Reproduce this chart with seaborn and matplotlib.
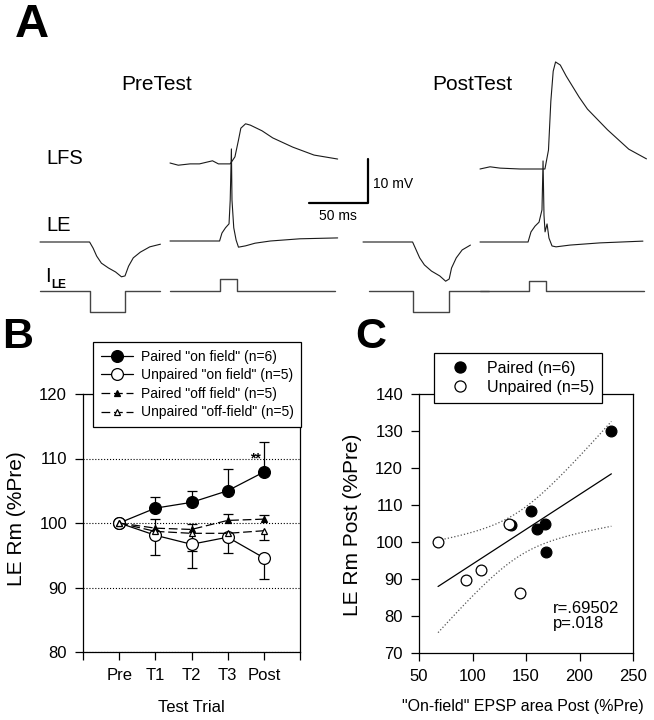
import numpy as np
import matplotlib
matplotlib.use("Agg")
import matplotlib.pyplot as plt
from matplotlib.lines import Line2D
import seaborn as sns

# ---------------- panel A: traces (t in ms, v in mV from baseline) ----------------
pre_hyp_t = [0, 42, 45, 48, 52, 58, 64, 69, 72, 75, 79, 85, 93, 102]
pre_hyp_v = [0, 0, -1.4, -3.2, -4.8, -5.9, -6.8, -7.9, -7.7, -5.5, -3.6, -2.3, -1.1, -0.5]
post_hyp_t = [0, 42, 45, 48, 52, 58, 65, 70, 73, 75, 79, 84, 91]
post_hyp_v = [0, 0, -1.8, -3.6, -5.2, -6.6, -7.7, -8.9, -8.4, -5.9, -3.6, -1.8, -0.7]

pre_le_t = [0, 42, 44, 47, 50, 51, 52, 52.5, 54, 56, 58, 64, 72, 85, 110, 142]
pre_le_v = [0, 0, 1.8, 3.0, 3.9, 9.3, 20.9, 9.3, 3.0, 0.2, -1.4, -1.1, -0.5, 0, 0.5, 0.7]
post_le_t = [0, 40.7, 43.2, 46.6, 50.0, 52.5, 53.4, 54.2, 55.1, 56.8, 58.4, 61.0, 64.4, 76.2, 101.6, 138.0]
post_le_v = [0, 0, 2.3, 3.6, 4.5, 7.3, 18.4, 6.1, 2.3, 4.1, 0.9, -0.9, -1.1, -0.7, -0.2, 0.2]

pre_lfs_t = [0, 7, 17, 25, 36, 41, 51, 55, 58, 60, 64, 68, 78, 87, 104, 122, 142]
pre_lfs_v = [0, -0.5, -0.2, -0.2, 0.5, -0.2, -0.2, 1.4, 5.2, 7.9, 8.9, 8.6, 7.3, 5.7, 3.6, 1.8, 0.9]
post_lfs_t = [0, 8.5, 17, 34, 51, 55, 58, 60, 62, 64, 68, 73, 84, 91, 108, 126, 141]
post_lfs_v = [0, 0.5, 0.2, 0, 0, 0, 4.3, 15.4, 22.2, 24.3, 23.6, 21.1, 16.3, 13.6, 8.9, 4.5, 2.3]

# injected current (relative units, hyperpolarizing step = -1)
pre_hyp_it = [0, 42, 42, 72, 72, 102]
pre_hyp_i = [0, 0, -1, -1, 0, 0]
post_hyp_it = [5, 42, 42, 73, 73, 107]
post_hyp_i = [0, 0, -1, -1, 0, 0]
pre_dep_it = [0, 42, 42, 57, 57, 140]
pre_dep_i = [0, 0, 0.55, 0.55, 0, 0]
post_dep_it = [0, 41.5, 41.5, 56, 56, 139]
post_dep_i = [0, 0, 0.48, 0.48, 0, 0]

# ---------------- panel B ----------------
trials = ["Pre", "T1", "T2", "T3", "Post"]
paired_on = [100, 102.3, 103.2, 105.0, 107.9]
paired_on_err = [0, 1.8, 1.7, 3.3, 4.7]
unpaired_on = [100, 98.1, 96.7, 97.8, 94.6]
unpaired_on_err = [0, 3.1, 3.7, 2.5, 3.3]
paired_off = [100, 99.2, 99.0, 100.4, 100.6]
paired_off_err = [0, 1.4, 0.8, 1.0, 0.6]
unpaired_off = [100, 98.7, 98.4, 98.4, 98.8]
unpaired_off_err = [0, 0.8, 2.8, 0.7, 1.5]

# ---------------- panel C ----------------
paired_x = [229.8, 155.0, 160.3, 167.8, 168.4, 136.3]
paired_y = [129.9, 108.5, 103.4, 104.8, 97.2, 104.6]
unpaired_x = [67.8, 93.6, 108.3, 133.8, 144.1]
unpaired_y = [99.9, 89.7, 92.4, 105.0, 86.3]

sns.set_style("ticks", {"axes.edgecolor": "k", "xtick.color": "k", "ytick.color": "k",
                        "text.color": "k", "axes.labelcolor": "k"})
plt.rcParams["font.family"] = ["Liberation Sans", "DejaVu Sans"]

W, H = 654, 720
fig = plt.figure(figsize=(6.54, 7.2), dpi=100)

# ----- panel A, drawn in pixel coordinates -----
PX_PER_MS = 1 / 0.847
PX_PER_MV = 1 / 0.227
PX_PER_I = 21

axA = fig.add_axes([0, 1 - 325 / H, 1, 285 / H])
axA.set_xlim(0, W)
axA.set_ylim(325, 40)
axA.axis("off")


def trace(x0, y0, t, v, scale, **kw):
    x = x0 + np.asarray(t, float) * PX_PER_MS
    y = y0 - np.asarray(v, float) * scale
    axA.plot(x, y, **kw)


vkw = dict(color="#1a1a1a", lw=0.8)
ikw = dict(color="#444444", lw=1.0)
trace(40, 242, pre_hyp_t, pre_hyp_v, PX_PER_MV, **vkw)
trace(40, 291, pre_hyp_it, pre_hyp_i, PX_PER_I, **ikw)
trace(170, 163, pre_lfs_t, pre_lfs_v, PX_PER_MV, **vkw)
trace(170, 241, pre_le_t, pre_le_v, PX_PER_MV, **vkw)
trace(170, 291, pre_dep_it, pre_dep_i, PX_PER_I, **ikw)
trace(363, 242, post_hyp_t, post_hyp_v, PX_PER_MV, **vkw)
trace(363, 291, post_hyp_it, post_hyp_i, PX_PER_I, **ikw)
trace(480, 169, post_lfs_t, post_lfs_v, PX_PER_MV, **vkw)
trace(480, 242, post_le_t, post_le_v, PX_PER_MV, **vkw)
trace(480, 291, post_dep_it, post_dep_i, PX_PER_I, **ikw)

# scale bar 50 ms / 10 mV
axA.plot([368 - 50 * PX_PER_MS, 368, 368], [203, 203, 203 - 10 * PX_PER_MV], color="k", lw=1.6)
axA.text(373, 184, "10 mV", fontsize=10, va="center", ha="left")
axA.text(338, 216, "50 ms", fontsize=10, va="center", ha="center")

axA.text(157, 84, "PreTest", fontsize=15, ha="center", va="center")
axA.text(472, 84, "PostTest", fontsize=15, ha="center", va="center")
axA.text(46, 158, "LFS", fontsize=14.5, va="center")
axA.text(46, 226, "LE", fontsize=14.5, va="center")
axA.text(45, 277, "I", fontsize=14.5, va="center")
axA.text(51, 285, "LE", fontsize=8.5, fontweight="bold", va="center")

fig.text(15 / W, 1 - 25 / H, "A", fontsize=34, fontweight="bold", va="center")
fig.text(2 / W, 1 - 337 / H, "B", fontsize=31, fontweight="bold", va="center")
fig.text(355 / W, 1 - 337 / H, "C", fontsize=31, fontweight="bold", va="center")

# ----- panel B -----
axB = fig.add_axes([83 / W, 1 - 652 / H, 217 / W, 258 / H])
xpos = np.arange(1, len(trials) + 1)

styles = [
    (paired_on, paired_on_err, 1, dict(marker="o", markersize=8.5, markerfacecolor="k", linestyle="-")),
    (unpaired_on, unpaired_on_err, -1, dict(marker="o", markersize=8.5, markerfacecolor="w", linestyle="-")),
    (paired_off, paired_off_err, 1, dict(marker="^", markersize=4.5, markerfacecolor="k", linestyle=(0, (7, 3)))),
    (unpaired_off, unpaired_off_err, -1, dict(marker="^", markersize=4.5, markerfacecolor="w", linestyle=(0, (7, 3)))),
]
labels = ['Paired "on field" (n=6)', 'Unpaired "on field" (n=5)',
          'Paired "off field" (n=5)', 'Unpaired "off-field" (n=5)']

for vals, err, side, st in styles:
    vals = np.asarray(vals, float)
    tips = vals + side * np.asarray(err, float)
    axB.vlines(xpos[1:], vals[1:], tips[1:], color="k", lw=0.9, zorder=2)
    axB.plot(xpos[1:], tips[1:], ls="none", marker="_", ms=7, mew=0.9, color="k", zorder=2)
handles = []
for vals, err, side, st in styles:
    sns.lineplot(x=xpos, y=vals, ax=axB, color="k", lw=0.9, markeredgecolor="k",
                 markeredgewidth=0.9, legend=False, zorder=3, **st)
    handles.append(Line2D([], [], color="k", lw=0.9, markeredgecolor="k", markeredgewidth=0.9, **st))

axB.set_xlim(0, 6)
axB.set_ylim(80, 120)
axB.set_xticks(range(0, 7))
axB.set_xticklabels([""] + trials + [""])
axB.set_yticks(range(80, 121, 10))
axB.yaxis.grid(True, ls=":", color="k", lw=0.8)
axB.text((255 - 83) / 217, (652 - 458) / 258, "**", transform=axB.transAxes,
         fontsize=10, fontweight="bold", ha="center", va="center")
leg = axB.legend(handles, labels, loc="upper left", bbox_to_anchor=(93 / W, 1 - 342 / H),
                 bbox_transform=fig.transFigure, fontsize=10, frameon=True, fancybox=False,
                 edgecolor="k", framealpha=1, handlelength=2.3, handletextpad=0.6,
                 labelspacing=0.33, borderpad=0.55, borderaxespad=0)
leg.get_frame().set_linewidth(0.9)
axB.set_xlabel("Test Trial", fontsize=12, va="center")
axB.set_ylabel("LE Rm (%Pre)", fontsize=15, va="center")
axB.xaxis.set_label_coords(0.5, (652 - 708) / 258)
axB.yaxis.set_label_coords((17 - 83) / 217, (652 - 519) / 258)

# ----- panel C -----
axC = fig.add_axes([419 / W, 1 - 653 / H, 214 / W, 259 / H])
xs = np.array(paired_x + unpaired_x)
ys = np.array(paired_y + unpaired_y)
slope, intercept = np.polyfit(xs, ys, 1)
n = len(xs)
resid = ys - (intercept + slope * xs)
s = np.sqrt(resid @ resid / (n - 2))
grid = np.linspace(xs.min(), xs.max(), 60)
fit = intercept + slope * grid
se = s * np.sqrt(1 / n + (grid - xs.mean()) ** 2 / ((xs - xs.mean()) ** 2).sum())
T_CRIT = 2.262  # t(0.975, df=9)

sns.lineplot(x=grid, y=fit, ax=axC, color="k", lw=0.9, zorder=2)
sns.lineplot(x=grid, y=fit + T_CRIT * se, ax=axC, color="#555555", lw=0.9, ls=":", zorder=2)
sns.lineplot(x=grid, y=fit - T_CRIT * se, ax=axC, color="#555555", lw=0.9, ls=":", zorder=2)
sns.scatterplot(x=paired_x, y=paired_y, ax=axC, color="k", edgecolor="k", s=60, linewidth=0.9, zorder=3)
sns.scatterplot(x=unpaired_x, y=unpaired_y, ax=axC, color="w", edgecolor="k", s=60, linewidth=0.9, zorder=4)

axC.set_xlim(50, 250)
axC.set_ylim(70, 140)
axC.set_xticks(range(50, 251, 50))
axC.set_yticks(range(70, 141, 10))
axC.text((553 - 419) / 214, (653 - 616) / 259, "r=.69502\np=.018", transform=axC.transAxes,
         fontsize=12, ha="left", va="center", linespacing=1.0)
handlesC = [Line2D([], [], ls="none", marker="o", ms=8, mfc="k", mec="k", mew=0.9),
            Line2D([], [], ls="none", marker="o", ms=8, mfc="w", mec="k", mew=0.9)]
legC = axC.legend(handlesC, ["Paired (n=6)", "Unpaired (n=5)"], loc="upper left",
                  bbox_to_anchor=(434 / W, 1 - 353 / H), bbox_transform=fig.transFigure,
                  fontsize=11.5, frameon=True, fancybox=False, edgecolor="k", framealpha=1,
                  handlelength=2.2, handletextpad=0.6, labelspacing=0.25, borderpad=0.5,
                  borderaxespad=0)
legC.get_frame().set_linewidth(0.9)
axC.set_xlabel('"On-field" EPSP area Post (%Pre)', fontsize=11.5, va="center")
axC.set_ylabel("LE Rm Post (%Pre)", fontsize=15, va="center")
axC.xaxis.set_label_coords((523 - 419) / 214, (653 - 707) / 259)
axC.yaxis.set_label_coords((353 - 419) / 214, (653 - 525) / 259)

for ax in (axB, axC):
    for sp in ax.spines.values():
        sp.set_linewidth(0.9)
        sp.set_visible(True)
    ax.tick_params(length=5.5, width=0.9, labelsize=12, pad=6)

fig.savefig("out.png", dpi=100)
